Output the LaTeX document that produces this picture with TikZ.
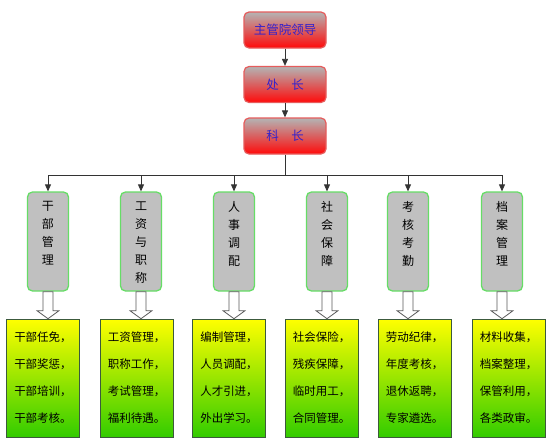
\documentclass[tikz,border=0pt]{standalone}
\usepackage{fontspec}
\setmainfont{Noto Sans CJK SC}
\usetikzlibrary{arrows.meta,calc}
\definecolor{topgrey}{HTML}{B4B4B4}
\definecolor{topred}{HTML}{FF0A0A}
\definecolor{topedge}{HTML}{E65C5C}
\definecolor{toptext}{HTML}{3322CC}
\definecolor{midgrey}{HTML}{C0C0C0}
\definecolor{midedge}{HTML}{66DD66}
\definecolor{lowyellow}{HTML}{FFFF00}
\definecolor{lowgreen}{HTML}{33CC00}
\definecolor{lowedge}{HTML}{3C5A3C}
\begin{document}
\begin{tikzpicture}[x=1pt,y=-1pt,
 topbox/.style={draw=topedge, line width=1.2pt, rounded corners=5pt, top color=topgrey, bottom color=topred,
   minimum width=82pt, minimum height=36pt, inner sep=0pt, text=toptext, font=\fontsize{12.5}{15}\selectfont},
 midbox/.style={draw=midedge, line width=1.3pt, rounded corners=5pt, fill=midgrey,
   minimum width=41pt, minimum height=99pt, inner sep=0pt, font=\fontsize{12}{18}\selectfont},
 lowbox/.style={draw=lowedge, line width=0.6pt, top color=lowyellow, bottom color=lowgreen,
   minimum width=73pt, minimum height=118pt, inner sep=0pt, align=center, font=\fontsize{11.5}{27}\selectfont},
 conn/.style={draw=black!80, line width=0.8pt},
 arr/.style={conn, -{Triangle[length=7pt,width=6pt]}},
 hollow/.style={draw=gray!70!black, fill=white, line width=0.8pt, line join=miter}]
\useasboundingbox (0,0) rectangle (550,439);
\fill[white] (0,0) rectangle (550,439);

% top chain
\node[topbox] (t1) at (285,30) {主管院领导};
\node[topbox] (t2) at (285,84.5) {处\hspace{1em}长};
\node[topbox] (t3) at (285,136) {科\hspace{1em}长};
\draw[arr] (t1) -- (t2);
\draw[arr] (t2) -- (t3);
\coordinate (bus) at (285,175);
\draw[conn] (t3.south) -- (bus);

% middle boxes
\newcommand{\vtext}[1]{\parbox[c][86pt][t]{14pt}{\centering\vspace*{3pt}#1}}
\node[midbox] (m1) at (48,241.5)  {\vtext{干\\部\\管\\理}};
\node[midbox] (m2) at (141,241.5) {\vtext{工\\资\\与\\职\\称}};
\node[midbox] (m3) at (234,241.5) {\vtext{人\\事\\调\\配}};
\node[midbox] (m4) at (327,241.5) {\vtext{社\\会\\保\\障}};
\node[midbox] (m5) at (408,241.5) {\vtext{考\\核\\考\\勤}};
\node[midbox] (m6) at (502,241.5) {\vtext{档\\案\\管\\理}};

\draw[conn] (m1.north |- bus) -- (m6.north |- bus);
\foreach \i in {1,...,6}{
  \draw[arr] (m\i.north |- bus) -- (m\i.north);
}

% lower boxes
\node[lowbox] (l1) at (43,378)    {干部任免，\\干部奖惩，\\干部培训，\\干部考核。};
\node[lowbox] (l2) at (136.5,378) {工资管理，\\职称工作，\\考试管理，\\福利待遇。};
\node[lowbox] (l3) at (229,378)   {编制管理，\\人员调配，\\人才引进，\\外出学习。};
\node[lowbox] (l4) at (321.5,378) {社会保险，\\残疾保障，\\临时用工，\\合同管理。};
\node[lowbox] (l5) at (414.5,378) {劳动纪律，\\年度考核，\\退休返聘，\\专家遴选。};
\node[lowbox] (l6) at (508.5,378) {材料收集，\\档案整理，\\保管利用，\\各类政审。};

\foreach \i in {1,...,6}{
  \draw[hollow] let \p1=(m\i.south), \p2=(l\i.north) in
    (\x1-5pt,\y1) -- (\x1-5pt,\y2+8pt) -- (\x1-11pt,\y2+8pt) -- (\x1,\y2)
    -- (\x1+11pt,\y2+8pt) -- (\x1+5pt,\y2+8pt) -- (\x1+5pt,\y1) -- cycle;
}
\end{tikzpicture}
\end{document}
